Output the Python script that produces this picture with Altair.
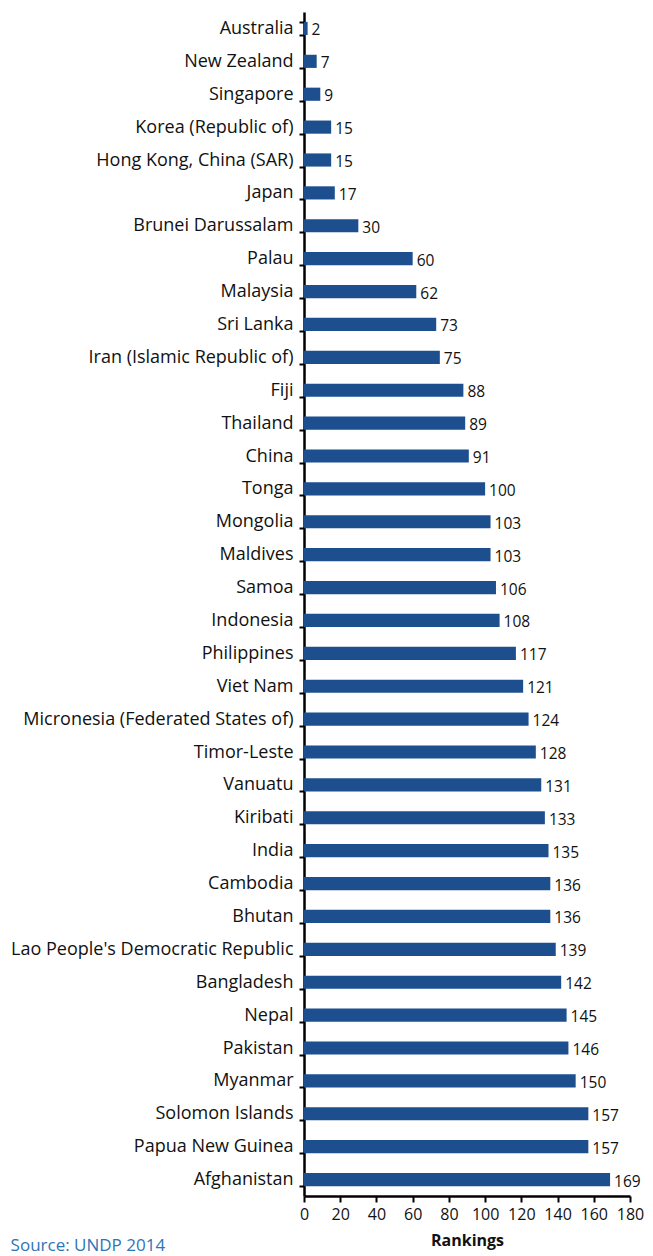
import altair as alt
import pandas as pd

countries = [
    "Australia", "New Zealand", "Singapore", "Korea (Republic of)", "Hong Kong, China (SAR)",
    "Japan", "Brunei Darussalam", "Palau", "Malaysia", "Sri Lanka",
    "Iran (Islamic Republic of)", "Fiji", "Thailand", "China", "Tonga",
    "Mongolia", "Maldives", "Samoa", "Indonesia", "Philippines",
    "Viet Nam", "Micronesia (Federated States of)", "Timor-Leste", "Vanuatu", "Kiribati",
    "India", "Cambodia", "Bhutan", "Lao People's Democratic Republic", "Bangladesh",
    "Nepal", "Pakistan", "Myanmar", "Solomon Islands", "Papua New Guinea",
    "Afghanistan",
]
rankings = [2, 7, 9, 15, 15, 17, 30, 60, 62, 73, 75, 88, 89, 91, 100, 103, 103, 106, 108,
            117, 121, 124, 128, 131, 133, 135, 136, 136, 139, 142, 145, 146, 150, 157, 157, 169]
x_ticks = [0, 20, 40, 60, 80, 100, 120, 140, 160, 180]

df = pd.DataFrame({"country": countries, "rank": rankings})

FONT = "Open Sans"

y_enc = alt.Y(
    "country:N", sort=countries, title=None,
    scale=alt.Scale(paddingInner=0.6, paddingOuter=0.3),
    axis=alt.Axis(tickBand="extent", labelFontSize=18, labelFont=FONT, labelColor="#111111",
                  labelPadding=6, tickSize=5, tickWidth=2, tickColor="black",
                  domainColor="black", domainWidth=2.5, labelLimit=400, labelOverlap=False),
)
x_enc = alt.X(
    "rank:Q", title="Rankings",
    scale=alt.Scale(domain=[0, 180], nice=False),
    axis=alt.Axis(values=x_ticks, labelFontSize=16, labelFont=FONT, labelColor="#111111",
                  tickSize=6, tickWidth=2, tickColor="black", domainColor="black",
                  domainWidth=2.5, grid=False, labelPadding=4, labelOverlap=False,
                  titleFont=FONT, titleFontSize=16, titleFontWeight="bold",
                  titlePadding=10, titleColor="#111111", labelFlush=False),
)

base = alt.Chart(df).encode(x=x_enc, y=y_enc)
bars = base.mark_bar(color="#1d4f8f")
labels = base.mark_text(align="left", baseline="middle", dx=4, dy=2,
                        fontSize=15.5, font=FONT, color="#111111").encode(text="rank:Q")

chart = (bars + labels).properties(
    width=326, height=1184,
    padding={"left": 296, "top": 4, "right": 14, "bottom": 62},
    autosize=alt.AutoSizeParams(type="none"),
    title=alt.TitleParams("Source: UNDP 2014", orient="bottom", anchor="start", frame="bounds",
                          font=FONT, fontSize=17, fontWeight="normal", color="#2e75b6", offset=-10),
).configure_view(stroke=None)

chart.save("out.html", embed_options={"renderer": "svg", "actions": False})
